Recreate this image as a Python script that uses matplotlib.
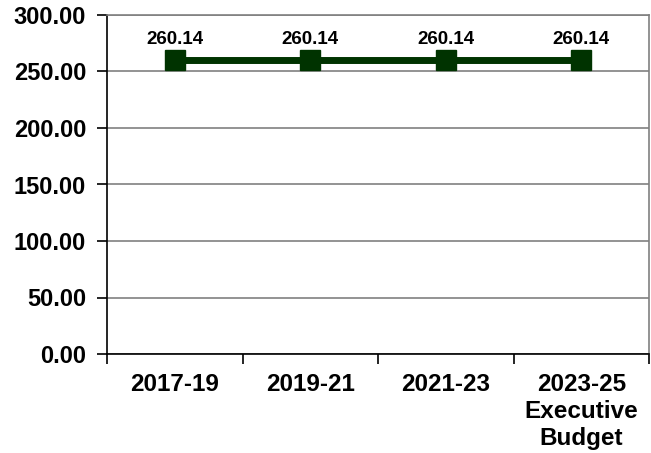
import matplotlib
matplotlib.use('Agg')
import matplotlib.pyplot as plt

plt.rcParams['font.family'] = ['Liberation Sans', 'DejaVu Sans']
plt.rcParams['font.weight'] = 'bold'

# data
periods = ['2017-19', '2019-21', '2021-23', '2023-25\nExecutive\nBudget']
values = [260.14, 260.14, 260.14, 260.14]
yticks = [0, 50, 100, 150, 200, 250, 300]

fig = plt.figure(figsize=(6.51, 4.53), dpi=100)
ax = fig.add_axes([107/651, 1-354/453, 542/651, 339/453])

xs = list(range(len(periods)))
ax.plot(xs, values, color='#003300', lw=5, marker='s', markersize=14, zorder=3)
for x, v in zip(xs, values):
    ax.annotate('{:.2f}'.format(v), (x, v), xytext=(0, 15), textcoords='offset points',
                ha='center', va='center', fontsize=13.5, fontweight='bold')

ax.set_xlim(-0.5, 3.5)
ax.set_ylim(0, 300)
ax.set_yticks(yticks)
ax.set_yticklabels(['{:.2f}'.format(t) for t in yticks], fontsize=17, fontweight='bold')
ax.yaxis.grid(True, color='#808080', lw=1.2)
ax.set_axisbelow(True)

ax.set_xticks(xs)
ax.set_xticklabels(periods, fontsize=17.5, fontweight='bold', linespacing=1.22)
ax.tick_params(axis='x', which='major', length=0, pad=14)
ax.set_xticks([-0.5, 0.5, 1.5, 2.5, 3.5], minor=True)
ax.tick_params(axis='x', which='minor', length=7, width=1.2, direction='out')
ax.tick_params(axis='y', length=7, width=1.2, pad=8)

ax.spines['left'].set_color('black')
ax.spines['bottom'].set_color('black')
ax.spines['left'].set_linewidth(1.2)
ax.spines['bottom'].set_linewidth(1.2)
ax.spines['top'].set_color('#808080')
ax.spines['right'].set_color('#808080')
ax.spines['top'].set_linewidth(1.2)
ax.spines['right'].set_linewidth(1.2)

fig.savefig('out.png', dpi=100)
